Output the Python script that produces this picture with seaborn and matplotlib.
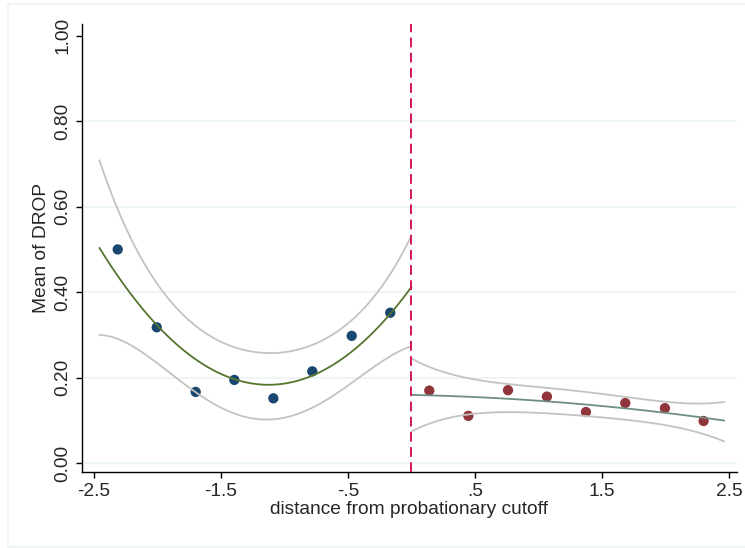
import matplotlib
matplotlib.use("Agg")
import matplotlib.pyplot as plt
import seaborn as sns
import pandas as pd
from matplotlib.lines import Line2D

# ---- data ----
left_bin_x = [-2.310, -2.003, -1.697, -1.393, -1.086, -0.780, -0.470, -0.167]
left_bin_y = [0.500, 0.318, 0.167, 0.195, 0.152, 0.215, 0.298, 0.352]

right_bin_x = [0.140, 0.447, 0.759, 1.065, 1.372, 1.681, 1.993, 2.297]
right_bin_y = [0.170, 0.111, 0.171, 0.156, 0.120, 0.141, 0.129, 0.099]

left_fit_x = [-2.454, -2.292, -2.082, -1.820, -1.558, -1.270, -1.060, -0.798, -0.536, -0.274, 0.0]
left_fit = [0.506, 0.428, 0.351, 0.272, 0.218, 0.185, 0.181, 0.199, 0.249, 0.331, 0.401]
left_upper = [0.708, 0.583, 0.456, 0.354, 0.292, 0.265, 0.261, 0.272, 0.312, 0.405, 0.530]
left_lower = [0.305, 0.281, 0.249, 0.202, 0.140, 0.105, 0.101, 0.124, 0.179, 0.230, 0.273]

right_fit_x = [0.0, 0.211, 0.552, 0.866, 1.246, 1.640, 2.030, 2.240, 2.459]
right_fit = [0.161, 0.158, 0.153, 0.148, 0.1415, 0.130, 0.118, 0.109, 0.099]
right_upper = [0.243, 0.222, 0.191, 0.181, 0.171, 0.160, 0.140, 0.140, 0.144]
right_lower = [0.076, 0.097, 0.119, 0.121, 0.111, 0.103, 0.091, 0.070, 0.052]

x_ticks = [-2.5, -1.5, -0.5, 0.5, 1.5, 2.5]
x_tick_labels = ["-2.5", "-1.5", "-.5", ".5", "1.5", "2.5"]
y_ticks = [0.0, 0.2, 0.4, 0.6, 0.8, 1.0]
y_tick_labels = ["0.00", "0.20", "0.40", "0.60", "0.80", "1.00"]
cutoff = 0.0

# ---- style ----
sns.set_theme(style="white")
plt.rcParams["font.family"] = ["Liberation Sans", "DejaVu Sans"]

NAVY = "#1a476f"
MAROON = "#90353b"
FOREST = "#55752f"
TEAL = "#6e8e84"
CI_GRAY = "#c3c3c3"
GRID = "#eaf2f3"
CRIMSON = "#d4174f"
FS = 13.8

fig = plt.figure(figsize=(7.45, 5.48), dpi=100)
ax = fig.add_axes([0.1097, 0.1381, 0.9888 - 0.1097, 0.9562 - 0.1381])

# outer graph-region border (faint)
for xs, ys in [([8 / 745, 8 / 745], [1 / 548, 1 - 4 / 548]),
               ([8 / 745, 1.0], [1 - 4 / 548, 1 - 4 / 548]),
               ([8 / 745, 1.0], [1 / 548, 1 / 548])]:
    fig.add_artist(Line2D(xs, ys, transform=fig.transFigure, color="#eef2f4", lw=1.2))

# gridlines (not at the top limit)
for yv in y_ticks[:-1]:
    ax.axhline(yv, color=GRID, lw=1.1, zorder=0)

left_pts = pd.DataFrame({"x": left_bin_x, "y": left_bin_y})
right_pts = pd.DataFrame({"x": right_bin_x, "y": right_bin_y})
sns.scatterplot(data=left_pts, x="x", y="y", color=NAVY, s=55, edgecolor="none", ax=ax, zorder=2)
sns.scatterplot(data=right_pts, x="x", y="y", color=MAROON, s=55, edgecolor="none", ax=ax, zorder=2)

lf = pd.DataFrame({"x": left_fit_x, "fit": left_fit, "up": left_upper, "lo": left_lower})
rf = pd.DataFrame({"x": right_fit_x, "fit": right_fit, "up": right_upper, "lo": right_lower})
for df, col in [(lf, FOREST), (rf, TEAL)]:
    for yc in ["up", "lo"]:
        sns.regplot(data=df, x="x", y=yc, order=4, ci=None, scatter=False, truncate=True,
                    ax=ax, line_kws={"color": CI_GRAY, "lw": 1.3, "zorder": 3})
    sns.regplot(data=df, x="x", y="fit", order=2, ci=None, scatter=False, truncate=True,
                ax=ax, line_kws={"color": col, "lw": 1.3, "zorder": 4})

ax.axvline(cutoff, color=CRIMSON, lw=1.4, linestyle=(0, (5, 2.8)), zorder=5)

ax.set_xlim(-2.593, 2.557)
ax.set_ylim(-0.021, 1.027)
ax.set_xticks(x_ticks)
ax.set_xticklabels(x_tick_labels, fontsize=FS)
ax.set_yticks(y_ticks)
ax.set_yticklabels(y_tick_labels, fontsize=FS, rotation=90, va="center")
ax.tick_params(axis="both", direction="out", length=4.5, width=1.0, color="black",
               bottom=True, left=True, pad=3.0)
for s in ["top", "right"]:
    ax.spines[s].set_visible(False)
for s in ["left", "bottom"]:
    ax.spines[s].set_color("black")
    ax.spines[s].set_linewidth(1.0)

ax.set_xlabel("distance from probationary cutoff", fontsize=FS, labelpad=1)
ax.set_ylabel("Mean of DROP", fontsize=FS, labelpad=3)

fig.savefig("out.png", dpi=100)
